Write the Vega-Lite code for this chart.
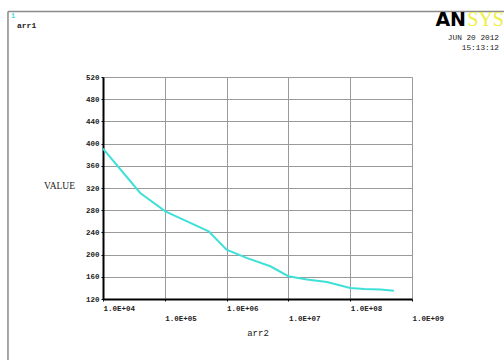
{
  "$schema": "https://vega.github.io/schema/vega-lite/v6.json",
  "width": 309,
  "height": 222,
  "autosize": "none",
  "padding": {"left": 103, "top": 77, "right": 92, "bottom": 61},
  "background": "white",
  "resolve": {"axis": {"x": "independent", "y": "independent"}},
  "config": {
    "view": {"stroke": null},
    "axis": {
      "gridColor": "#9a9a9a",
      "gridOpacity": 1,
      "gridWidth": 1,
      "domainColor": "#000000",
      "domainWidth": 2,
      "tickColor": "#000000",
      "tickSize": 2,
      "labelFont": "Liberation Mono",
      "labelFontSize": 7.5,
      "labelFontWeight": "bold",
      "labelColor": "#222222",
      "labelOverlap": false,
      "labelFlush": false,
      "labelBound": false
    }
  },
  "datasets": {
    "curve": [
      {"arr2": 10000, "value": 391},
      {"arr2": 40000, "value": 311},
      {"arr2": 102000, "value": 278},
      {"arr2": 229000, "value": 260},
      {"arr2": 513000, "value": 242},
      {"arr2": 1000000, "value": 209},
      {"arr2": 2100000, "value": 194},
      {"arr2": 5100000, "value": 179},
      {"arr2": 10000000, "value": 161},
      {"arr2": 20000000, "value": 155},
      {"arr2": 42000000, "value": 150.5},
      {"arr2": 100000000, "value": 140},
      {"arr2": 170000000, "value": 138},
      {"arr2": 310000000, "value": 137},
      {"arr2": 510000000, "value": 135}
    ],
    "one": [{}]
  },
  "layer": [
    {
      "data": {"name": "curve"},
      "mark": {"type": "line", "color": "#3ee0d8", "strokeWidth": 2},
      "encoding": {
        "x": {
          "field": "arr2",
          "type": "quantitative",
          "scale": {"type": "log", "domain": [10000, 1000000000], "nice": false},
          "axis": {
            "title": "arr2",
            "titleFont": "Liberation Mono",
            "titleFontSize": 9,
            "titleFontWeight": "normal",
            "titleColor": "#222222",
            "titleBaseline": "middle",
            "titleY": 33,
            "values": [10000, 100000, 1000000, 10000000, 100000000, 1000000000],
            "labelExpr": "'1.0E+0' + round(log(datum.value)/LN10)",
            "labelAlign": "left",
            "labelBaseline": "top",
            "labelPadding": {"condition": {"test": "round(log(datum.value)/LN10) % 2 == 1", "value": 13}, "value": 3}
          }
        },
        "y": {
          "field": "value",
          "type": "quantitative",
          "scale": {"domain": [120, 520], "nice": false, "zero": false},
          "axis": {
            "title": "VALUE",
            "titleAngle": 0,
            "titleFont": "Liberation Serif",
            "titleFontSize": 9.5,
            "titleFontWeight": "normal",
            "titleColor": "#222222",
            "titleAlign": "center",
            "titleBaseline": "middle",
            "titleX": -44,
            "titleY": 108,
            "values": [120, 160, 200, 240, 280, 320, 360, 400, 440, 480, 520],
            "labelPadding": 2
          }
        }
      }
    },
    {
      "data": {"name": "one"},
      "mark": {"type": "rule", "color": "#8a8a8a", "strokeWidth": 1.5},
      "encoding": {
        "x": {"datum": 290, "axis": null},
        "y": {"datum": 638, "axis": null},
        "y2": {"datum": 10}
      }
    },
    {
      "data": {"name": "one"},
      "mark": {"type": "rule", "color": "#8a8a8a", "strokeWidth": 1.5},
      "encoding": {
        "x": {"datum": 290, "axis": null},
        "x2": {"datum": 30800000000},
        "y": {"datum": 638, "axis": null}
      }
    },
    {
      "data": {"name": "one"},
      "mark": {"type": "text", "text": "1", "align": "left", "baseline": "middle", "dx": -92, "dy": -61, "font": "Liberation Mono", "fontSize": 7, "fontWeight": "bold", "color": "#3ee0d8"},
      "encoding": {"x": {"datum": 10000, "axis": null}, "y": {"datum": 520, "axis": null}}
    },
    {
      "data": {"name": "one"},
      "mark": {"type": "text", "text": "arr1", "align": "left", "baseline": "middle", "dx": -86, "dy": -51, "font": "Liberation Mono", "fontSize": 8, "fontWeight": "bold", "color": "#222222"},
      "encoding": {"x": {"datum": 10000, "axis": null}, "y": {"datum": 520, "axis": null}}
    },
    {
      "data": {"name": "one"},
      "mark": {"type": "text", "text": "AN", "align": "right", "baseline": "alphabetic", "dx": 54, "dy": -51, "font": "DejaVu Sans", "fontSize": 19, "fontWeight": "bold", "color": "#000000"},
      "encoding": {"x": {"datum": 1000000000, "axis": null}, "y": {"datum": 520, "axis": null}}
    },
    {
      "data": {"name": "one"},
      "mark": {"type": "text", "text": "SYS", "align": "right", "baseline": "alphabetic", "dx": 92, "dy": -51, "font": "Liberation Serif", "fontSize": 20, "fontWeight": "normal", "color": "#eeee44"},
      "encoding": {"x": {"datum": 1000000000, "axis": null}, "y": {"datum": 520, "axis": null}}
    },
    {
      "data": {"name": "one"},
      "mark": {"type": "text", "text": "JUN 20 2012", "align": "right", "baseline": "middle", "dx": 87, "dy": -39, "font": "Liberation Mono", "fontSize": 7.75, "color": "#222222"},
      "encoding": {"x": {"datum": 1000000000, "axis": null}, "y": {"datum": 520, "axis": null}}
    },
    {
      "data": {"name": "one"},
      "mark": {"type": "text", "text": "15:13:12", "align": "right", "baseline": "middle", "dx": 87, "dy": -29, "font": "Liberation Mono", "fontSize": 7.75, "color": "#222222"},
      "encoding": {"x": {"datum": 1000000000, "axis": null}, "y": {"datum": 520, "axis": null}}
    }
  ]
}
